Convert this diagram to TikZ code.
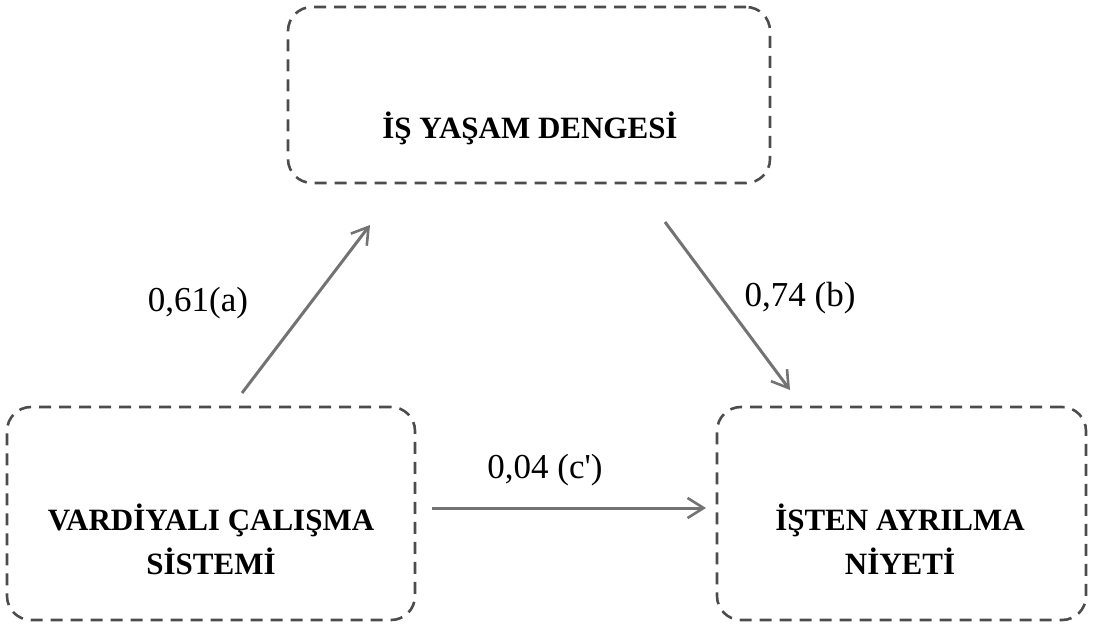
\documentclass[tikz,border=0pt]{standalone}
\usepackage{fontspec}
\setmainfont{Liberation Serif}
\usetikzlibrary{positioning,arrows.meta}

\begin{document}
\begin{tikzpicture}[
  x=0.5pt,y=-0.5pt,
  box/.style={draw=black!70,line width=1.3pt,dash pattern=on 6pt off 4pt,
    rounded corners=12pt,inner sep=0pt},
  boxtext/.style={font=\fontsize{15.5}{22}\selectfont\bfseries,align=center},
  path/.style={draw=black!55,line width=1.5pt,-{Straight Barb[length=8pt,width=10pt,line width=1.3pt]}},
  coef/.style={font=\fontsize{17.5}{20}\selectfont}
  ]
  \useasboundingbox (0,0) rectangle (1096,624);
  % Boxes
  \node[box,minimum width=241pt,minimum height=88pt] (iyd) at (529,95) {};
  \node[box,minimum width=204pt,minimum height=106.5pt] (vcs) at (211,513.5) {};
  \node[box,minimum width=184.5pt,minimum height=106.5pt] (ian) at (901.5,513.5) {};
  % Texts
  \node[boxtext] (iydt) at (530,128) {İŞ YAŞAM DENGESİ};
  \node[boxtext] (vcst) at (211,539) {VARDİYALI ÇALIŞMA\\SİSTEMİ};
  \node[boxtext] (iant) at (900,539) {İŞTEN AYRILMA\\NİYETİ};
  % Arrow ends
  \coordinate (a0) at (242,393);
  \coordinate (a1) at (370,225);
  \coordinate (b0) at (665,222);
  \coordinate (b1) at (790,390);
  \coordinate (c0) at (432,508);
  \coordinate (c1) at (706,508);
  % Paths
  \draw[path] (a0) -- (a1);
  \draw[path] (b0) -- (b1);
  \draw[path] (c0) -- (c1);
  % Coefficients
  \node[coef] (ca) at (198,303) {0,61(a)};
  \node[coef] (cb) at (800,298) {0,74 (b)};
  \node[coef] (cc) at (545,470) {0,04 (c\textquotesingle)};
\end{tikzpicture}
\end{document}
